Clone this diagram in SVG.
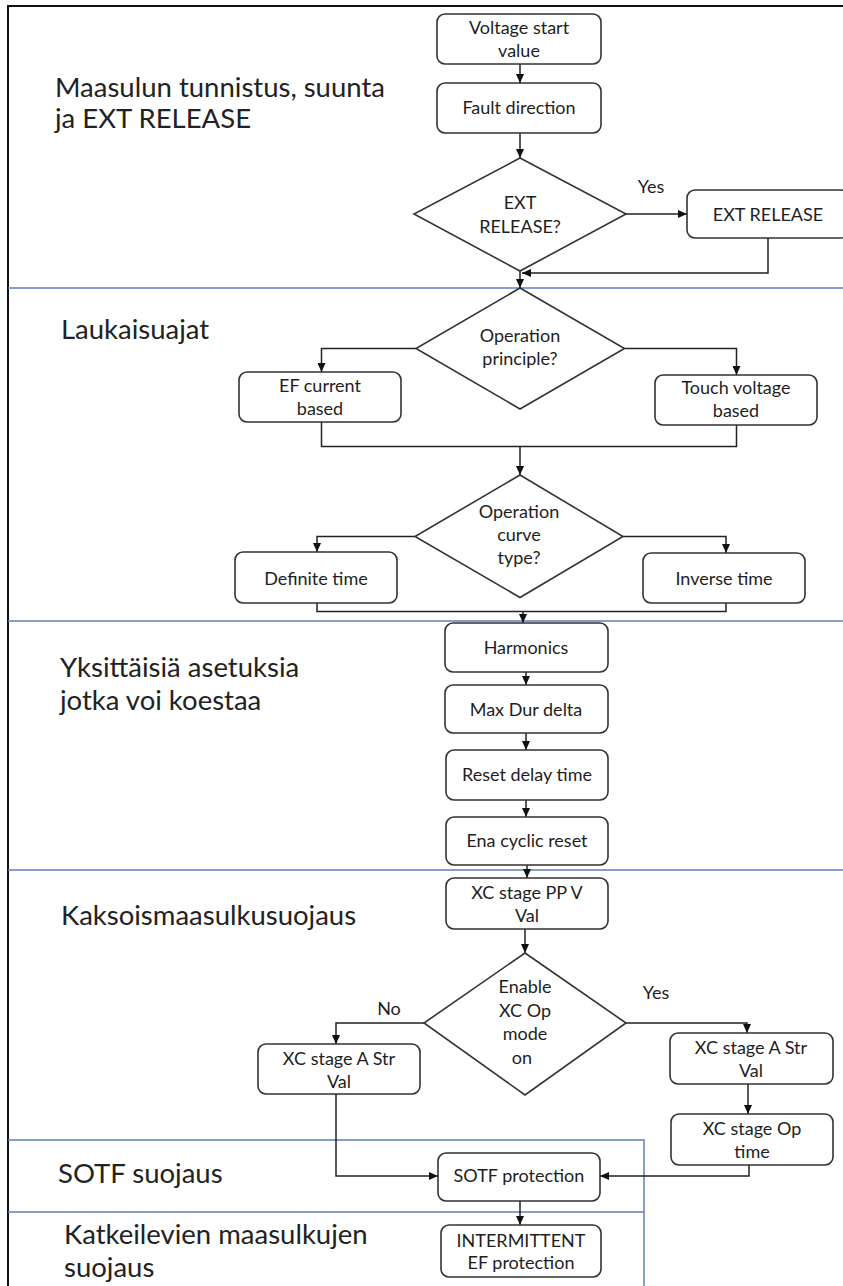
<svg xmlns="http://www.w3.org/2000/svg" width="843" height="1286" viewBox="0 0 843 1286">
  <style>
    .frame { fill: none; stroke: #111; stroke-width: 2; }
    .band { fill: none; stroke: #5f7fb6; stroke-width: 1.5; }
    .node rect, .node polygon { fill: #fff; stroke: #333; stroke-width: 1.6; }
    .node text, .lbl { font-family: Lato, "Liberation Sans", sans-serif; font-size: 18px; fill: #1e1e1e; text-anchor: middle; }
    .sec { font-family: Lato, "Liberation Sans", sans-serif; font-size: 27.5px; fill: #222; }
    .conn path { fill: none; stroke: #222; stroke-width: 1.5; }
    .conn path.arr { marker-end: url(#ah); }
  </style>
  <defs>
    <marker id="ah" markerUnits="userSpaceOnUse" markerWidth="9" markerHeight="8" refX="9" refY="4" orient="auto">
      <path d="M0,0 L9,4 L0,8 z" fill="#111"/>
    </marker>
  </defs>

  <rect width="843" height="1286" fill="#fff"/>

  <!-- outer frame (left and top edges) -->
  <path class="frame" d="M8,1286 V6 H843"/>

  <!-- section separators -->
  <g id="bands">
    <path class="band" d="M8,288 H843"/>
    <path class="band" d="M8,621 H843"/>
    <path class="band" d="M8,870 H843"/>
    <path class="band" d="M8,1140 H644 V1286"/>
    <path class="band" d="M8,1212 H644"/>
  </g>

  <!-- section titles -->
  <g id="sections">
    <text class="sec" x="55" y="97">Maasulun tunnistus, suunta</text>
    <text class="sec" x="55" y="128">ja EXT RELEASE</text>
    <text class="sec" x="61" y="339">Laukaisuajat</text>
    <text class="sec" x="60" y="677">Yksittäisiä asetuksia</text>
    <text class="sec" x="60" y="710">jotka voi koestaa</text>
    <text class="sec" x="61" y="925">Kaksoismaasulkusuojaus</text>
    <text class="sec" x="58" y="1183">SOTF suojaus</text>
    <text class="sec" x="64" y="1244">Katkeilevien maasulkujen</text>
    <text class="sec" x="64" y="1277">suojaus</text>
  </g>

  <!-- connectors -->
  <g id="connectors" class="conn">
    <path class="arr" d="M520,64 V83"/>
    <path class="arr" d="M520,133 V158"/>
    <path class="arr" d="M626,214 H687"/>
    <path class="arr" d="M768,238 V273 H522"/>
    <path class="arr" d="M520,271 V288"/>
    <path class="arr" d="M416,348.5 H321.5 V372"/>
    <path class="arr" d="M624.5,348.5 H736.5 V375"/>
    <path d="M321.5,422 V446.5 H736.5 V425"/>
    <path class="arr" d="M520,446.5 V475"/>
    <path class="arr" d="M415,536.5 H317 V552"/>
    <path class="arr" d="M623,536.5 H726 V553"/>
    <path d="M317,603 V611.5 H726 V603"/>
    <path class="arr" d="M523,611.5 V623"/>
    <path class="arr" d="M526,672 V685"/>
    <path class="arr" d="M526,733 V750"/>
    <path class="arr" d="M526,800 V817"/>
    <path class="arr" d="M527,865 V878"/>
    <path class="arr" d="M525,929 V953"/>
    <path class="arr" d="M424,1023 H336 V1044"/>
    <path class="arr" d="M626,1023 H747 V1033"/>
    <path class="arr" d="M336,1094 V1176 H438"/>
    <path class="arr" d="M748,1084 V1114"/>
    <path class="arr" d="M749,1165 V1176 H600"/>
    <path class="arr" d="M520,1201 V1225"/>
    <text class="lbl" x="651" y="193">Yes</text>
    <text class="lbl" x="389" y="1015">No</text>
    <text class="lbl" x="656" y="999">Yes</text>
  </g>

  <!-- nodes -->
  <g id="voltage-start" class="node">
    <rect x="437" y="14" width="164" height="50" rx="8"/>
    <text x="519" y="34">Voltage start</text>
    <text x="519" y="57">value</text>
  </g>
  <g id="fault-direction" class="node">
    <rect x="437" y="83" width="164" height="50" rx="8"/>
    <text x="519" y="114">Fault direction</text>
  </g>
  <g id="ext-release-q" class="node">
    <polygon points="520,158 626,214 520,271 414,214"/>
    <text x="520" y="209">EXT</text>
    <text x="520" y="233">RELEASE?</text>
  </g>
  <g id="ext-release" class="node">
    <rect x="687" y="190" width="162" height="48" rx="8"/>
    <text x="768" y="221">EXT RELEASE</text>
  </g>
  <g id="operation-principle" class="node">
    <polygon points="520,288 624.5,348.5 520,409 416,348.5"/>
    <text x="520" y="342">Operation</text>
    <text x="520" y="365">principle?</text>
  </g>
  <g id="ef-current" class="node">
    <rect x="239" y="372" width="162" height="50" rx="8"/>
    <text x="320" y="392">EF current</text>
    <text x="320" y="415">based</text>
  </g>
  <g id="touch-voltage" class="node">
    <rect x="655" y="375" width="162" height="50" rx="8"/>
    <text x="736" y="394">Touch voltage</text>
    <text x="736" y="417">based</text>
  </g>
  <g id="operation-curve" class="node">
    <polygon points="520,475 623,536.5 520,597.5 415,536.5"/>
    <text x="519" y="518">Operation</text>
    <text x="519" y="541">curve</text>
    <text x="519" y="564">type?</text>
  </g>
  <g id="definite-time" class="node">
    <rect x="235" y="552" width="162" height="51" rx="8"/>
    <text x="316" y="585">Definite time</text>
  </g>
  <g id="inverse-time" class="node">
    <rect x="643" y="553" width="162" height="50" rx="8"/>
    <text x="724" y="585">Inverse time</text>
  </g>
  <g id="harmonics" class="node">
    <rect x="445" y="623" width="163" height="49" rx="8"/>
    <text x="526" y="654">Harmonics</text>
  </g>
  <g id="max-dur-delta" class="node">
    <rect x="445" y="685" width="163" height="48" rx="8"/>
    <text x="526" y="716">Max Dur delta</text>
  </g>
  <g id="reset-delay" class="node">
    <rect x="446" y="750" width="162" height="50" rx="8"/>
    <text x="527" y="781">Reset delay time</text>
  </g>
  <g id="cyclic-reset" class="node">
    <rect x="446" y="817" width="162" height="48" rx="8"/>
    <text x="527" y="847">Ena cyclic reset</text>
  </g>
  <g id="xc-pp-v" class="node">
    <rect x="446" y="878" width="162" height="51" rx="8"/>
    <text x="527" y="899">XC stage PP V</text>
    <text x="527" y="922">Val</text>
  </g>
  <g id="xc-op-mode" class="node">
    <polygon points="525,953 626,1023 525,1095 424,1023"/>
    <text x="525" y="993">Enable</text>
    <text x="525" y="1017">XC Op</text>
    <text x="525" y="1040">mode</text>
    <text x="522" y="1064">on</text>
  </g>
  <g id="xc-a-str-no" class="node">
    <rect x="258" y="1044" width="162" height="50" rx="8"/>
    <text x="339" y="1065">XC stage A Str</text>
    <text x="339" y="1088">Val</text>
  </g>
  <g id="xc-a-str-yes" class="node">
    <rect x="670" y="1033" width="163" height="51" rx="8"/>
    <text x="751" y="1054">XC stage A Str</text>
    <text x="751" y="1077">Val</text>
  </g>
  <g id="xc-op-time" class="node">
    <rect x="671" y="1114" width="162" height="51" rx="8"/>
    <text x="752" y="1135">XC stage Op</text>
    <text x="752" y="1158">time</text>
  </g>
  <g id="sotf" class="node">
    <rect x="438" y="1153" width="162" height="48" rx="8"/>
    <text x="519" y="1182">SOTF protection</text>
  </g>
  <g id="intermittent" class="node">
    <rect x="441" y="1225" width="160" height="52" rx="8"/>
    <text x="521" y="1247">INTERMITTENT</text>
    <text x="521" y="1269">EF protection</text>
  </g>
</svg>
